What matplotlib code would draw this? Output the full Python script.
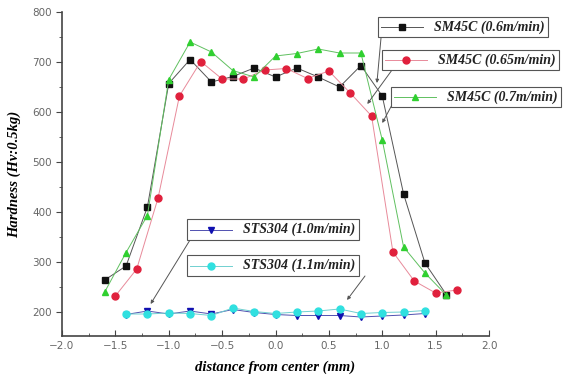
import matplotlib
matplotlib.use("Agg")
import matplotlib.pyplot as plt
from matplotlib.lines import Line2D
from matplotlib.offsetbox import AnnotationBbox, DrawingArea, TextArea, HPacker
from matplotlib.ticker import MultipleLocator

# Data
x_a = [-1.6, -1.4, -1.2, -1.0, -0.8, -0.6, -0.4, -0.2, 0.0, 0.2, 0.4, 0.6, 0.8, 1.0, 1.2, 1.4, 1.6]
sm45c_06 = [264, 292, 410, 657, 705, 660, 671, 688, 670, 688, 670, 650, 693, 632, 436, 298, 235]
sm45c_07 = [240, 319, 393, 665, 740, 720, 683, 670, 712, 717, 726, 718, 718, 544, 330, 278, 234]

x_b = [-1.5, -1.3, -1.1, -0.9, -0.7, -0.5, -0.3, -0.1, 0.1, 0.3, 0.5, 0.7, 0.9, 1.1, 1.3, 1.5, 1.7]
sm45c_065 = [232, 286, 428, 632, 701, 666, 666, 684, 687, 667, 682, 638, 592, 320, 262, 238, 244]

x_c = [-1.4, -1.2, -1.0, -0.8, -0.6, -0.4, -0.2, 0.0, 0.2, 0.4, 0.6, 0.8, 1.0, 1.2, 1.4]
sts304_10 = [195, 202, 196, 202, 196, 205, 199, 195, 193, 193, 193, 190, 192, 194, 197]
sts304_11 = [196, 196, 198, 197, 193, 208, 201, 197, 200, 202, 206, 197, 199, 200, 203]

labels = ["SM45C (0.6m/min)", "SM45C (0.65m/min)", "SM45C (0.7m/min)",
          "STS304 (1.0m/min)", "STS304 (1.1m/min)"]

fig = plt.figure(figsize=(5.73, 3.9), dpi=100)
ax = fig.add_axes([62 / 573, 1 - 336 / 390, 427 / 573, 324 / 390])

lab_font = dict(family="Liberation Serif", style="italic", weight="bold", size=10.5)

series = [
    (x_a, sm45c_06, "#111111", "s", "#555555"),
    (x_b, sm45c_065, "#e0203c", "o", "#e88a9a"),
    (x_a, sm45c_07, "#30d030", "^", "#60c060"),
    (x_c, sts304_10, "#1010b0", "v", "#5050b0"),
    (x_c, sts304_11, "#30e0e0", "o", "#70d0d0"),
]
for xs, ys, c, m, lc in series:
    ax.plot(xs, ys, color=lc, lw=0.7, marker=m, ms=5, mfc=c, mec=c, zorder=3)

ax.set_xlim(-2.0, 2.0)
ax.set_ylim(152, 800)
ax.xaxis.set_major_locator(MultipleLocator(0.5))
ax.xaxis.set_minor_locator(MultipleLocator(0.25))
ax.yaxis.set_major_locator(MultipleLocator(100))
ax.yaxis.set_minor_locator(MultipleLocator(50))
ax.set_yticks([200, 300, 400, 500, 600, 700, 800])
ax.tick_params(axis="x", which="both", direction="in", colors="#444444", labelsize=7.5)
ax.tick_params(axis="y", which="both", direction="out", colors="#444444", labelsize=7.5)
ax.tick_params(which="major", length=4)
ax.tick_params(which="minor", length=2.5)
for lbl in ax.get_xticklabels() + ax.get_yticklabels():
    lbl.set_color("#666666")
for s in ["top", "right"]:
    ax.spines[s].set_visible(False)
for s in ["left", "bottom"]:
    ax.spines[s].set_color("#444444")
    ax.spines[s].set_linewidth(1.2)

ax.set_xlabel("distance from center (mm)", fontdict=lab_font, labelpad=7)
ax.set_ylabel("Hardness (Hv:0.5kg)", fontdict=lab_font, labelpad=8)

# Legend boxes (left edge / centre y in figure pixels) and leader lines
box_pos = [(381, 363), (385, 330), (394, 293), (190, 160.5), (190, 124.5)]
leader_start = [(381, 352), (392, 320), (393, 287), (190, 150), (365, 114)]
targets = [(0.95, 658), (0.86, 616), (1.0, 578), (-1.17, 216), (0.67, 224)]
for (xs, ys, c, m, lc), lab, pos, st, tgt in zip(series, labels, box_pos, leader_start, targets):
    ax.annotate("", xy=tgt, xycoords="data", xytext=st, textcoords="figure pixels",
                arrowprops=dict(arrowstyle="-|>", color="#555555", lw=0.7,
                                mutation_scale=5, shrinkA=0, shrinkB=0))
    da = DrawingArea(30, 8, 0, 0)
    da.add_artist(Line2D([0, 30], [4, 4], color=lc, lw=0.7))
    da.add_artist(Line2D([15], [4], marker=m, ms=5, color=c))
    ta = TextArea(lab, textprops=dict(family="Liberation Serif", style="italic",
                                       weight="bold", size=10, color="#222222"))
    pack = HPacker(children=[da, ta], align="center", pad=0, sep=8)
    ab = AnnotationBbox(pack, (0, 0), xybox=pos, xycoords="figure pixels",
                        boxcoords="figure pixels", box_alignment=(0, 0.5), pad=0.25,
                        bboxprops=dict(edgecolor="#555555", lw=0.8, facecolor="white"))
    ax.add_artist(ab)

fig.savefig("out.png", dpi=100)
